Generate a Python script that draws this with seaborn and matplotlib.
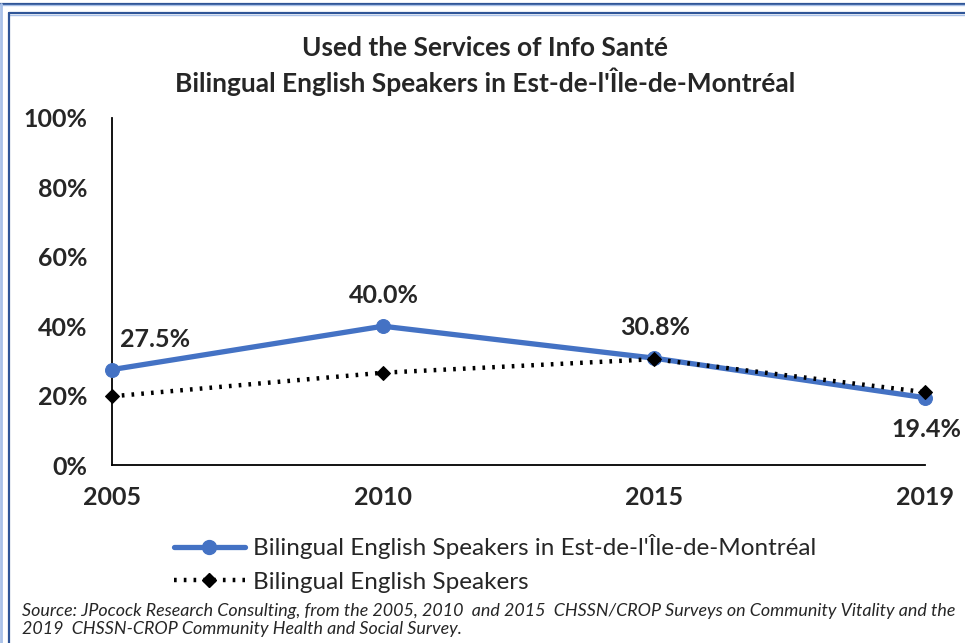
import matplotlib
matplotlib.use("Agg")
import matplotlib.pyplot as plt
import seaborn as sns
import pandas as pd
from matplotlib.lines import Line2D

years = ["2005", "2010", "2015", "2019"]
est_montreal = [27.5, 40.0, 30.8, 19.4]
bilingual_all = [19.8, 26.6, 30.5, 21.0]
y_ticks = [0, 20, 40, 60, 80, 100]

label_regional = "Bilingual English Speakers in Est-de-l'Île-de-Montréal"
label_all = "Bilingual English Speakers"
title = "Used the Services of Info Santé\nBilingual English Speakers in Est-de-l'Île-de-Montréal"
source = ("Source: JPocock Research Consulting, from the 2005, 2010  and 2015  CHSSN/CROP Surveys on Community Vitality and the\n"
          "2019  CHSSN-CROP Community Health and Social Survey.")

sns.set_theme(style="white")
plt.rcParams["font.family"] = ["Lato", "DejaVu Sans"]

BLUE = "#4472C4"
FRAME = "#2F5597"
DOTS = (0, (0.6, 1.6))

fig = plt.figure(figsize=(9.65, 6.43), dpi=100)
ax = fig.add_axes([0.1161, 0.2768, 0.8424, 0.5397])

df = pd.DataFrame({"year": years, "regional": est_montreal, "all": bilingual_all})

sns.lineplot(data=df, x="year", y="regional", ax=ax, color=BLUE, linewidth=3.8,
             marker="o", markersize=10, markeredgecolor=BLUE, clip_on=False, zorder=3)
sns.lineplot(data=df, x="year", y="all", ax=ax, color="black", linewidth=3.2,
             linestyle=DOTS, marker="D", markersize=7, markeredgecolor="black",
             clip_on=False, zorder=4)

ax.set_xlim(0, 3)
ax.set_ylim(0, 100)
ax.set_yticks(y_ticks)
ax.set_yticklabels([f"{t}%" for t in y_ticks])
ax.set_xlabel("")
ax.set_ylabel("")
for s in ["top", "right"]:
    ax.spines[s].set_visible(False)
for s in ["left", "bottom"]:
    ax.spines[s].set_color("black")
    ax.spines[s].set_linewidth(1.3)
ax.tick_params(axis="y", length=0, pad=18, labelsize=18)
ax.tick_params(axis="x", direction="out", length=6, width=1.3, color="black", pad=9, labelsize=18)
for lab in ax.get_xticklabels() + ax.get_yticklabels():
    lab.set_fontweight("bold")
ax.grid(False)

# data labels for the regional series
offsets = [(31, 22), (1, 22), (1, 22), (1, -23)]
for i, (v, off) in enumerate(zip(est_montreal, offsets)):
    ax.annotate(f"{v:.1f}%", (i, v), xytext=off, textcoords="offset points",
                ha="center", va="center", fontsize=18, fontweight="bold", annotation_clip=False)

fig.text(0.503, 0.898, title, ha="center", va="center", fontsize=19, fontweight="bold",
         linespacing=1.3)

handles = [
    Line2D([], [], color=BLUE, linewidth=3.8, marker="o", markersize=10),
    Line2D([], [], color="black", linewidth=3.2, linestyle=DOTS, marker="D", markersize=7),
]
fig.legend(handles, [label_regional, label_all], loc="upper center", bbox_to_anchor=(0.513, 0.203),
           frameon=False, fontsize=17.5, handlelength=2.9, handletextpad=0.33, labelspacing=0.5,
           numpoints=1, borderpad=0.4)

fig.text(0.023, 0.036, source, ha="left", va="center", fontsize=12.9, style="italic", linespacing=1.2)

# frame lines around the chart area
fig.add_artist(Line2D([0, 1], [1 - 3.5 / 643] * 2, color=FRAME, linewidth=1.6, transform=fig.transFigure))
fig.add_artist(Line2D([0, 1], [1 - 5.2 / 643] * 2, color="#A9C1E8", linewidth=1.0, transform=fig.transFigure))
fig.add_artist(Line2D([0.0098, 1], [1 - 12.7 / 643] * 2, color=FRAME, linewidth=1.6, transform=fig.transFigure))
fig.add_artist(Line2D([0.0098, 1], [1 - 14.5 / 643] * 2, color="#A9C1E8", linewidth=1.0, transform=fig.transFigure))
fig.add_artist(Line2D([0.0098, 0.0098], [0, 1 - 12.7 / 643], color=FRAME, linewidth=1.6, transform=fig.transFigure))
fig.add_artist(Line2D([0.0015, 0.0015], [0, 1 - 3.5 / 643], color="#A9C1E8", linewidth=2, transform=fig.transFigure))

fig.savefig("out.png", dpi=100)
